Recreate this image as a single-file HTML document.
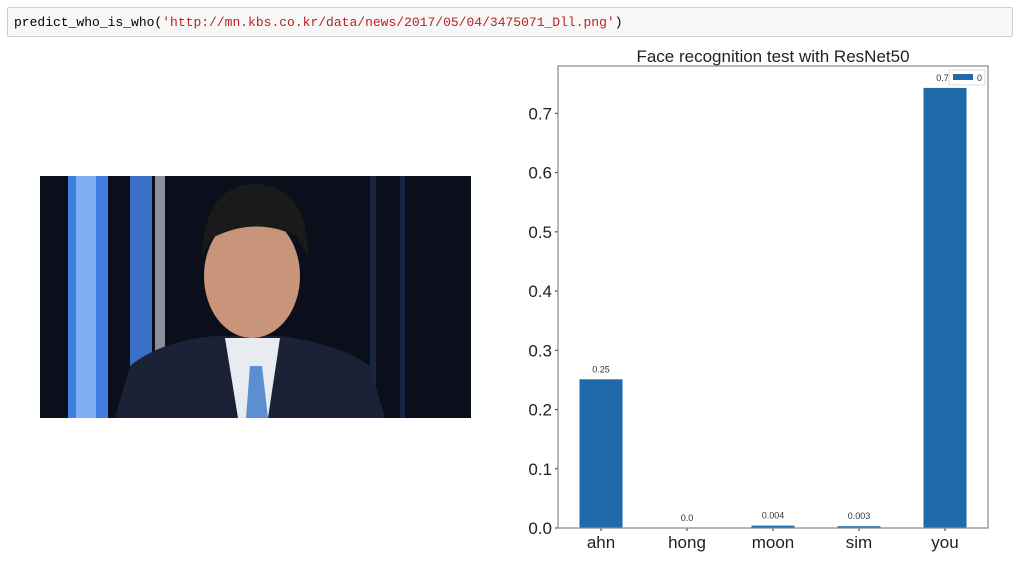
<!DOCTYPE html>
<html><head><meta charset="utf-8"><style>
body{margin:0;width:1022px;height:562px;background:#fff;overflow:hidden;position:relative;font-family:"Liberation Sans",sans-serif}
#cell{position:absolute;left:7px;top:7px;width:1006px;height:30px;background:#f7f7f7;border:1px solid #cfcfcf;border-radius:2px;box-sizing:border-box}
#code{position:absolute;left:6px;top:7px;font:13px "Liberation Mono",monospace;color:#000;white-space:pre}
.s{color:#ba2121}
</style></head><body>
<div id="cell"><div id="code">predict_who_is_who(<span class="s">'http://mn.kbs.co.kr/data/news/2017/05/04/3475071_Dll.png'</span>)</div></div>
<svg style="position:absolute;left:40px;top:176px" width="431" height="242">
<rect width="431" height="242" fill="#0b0f1c"/>
<rect x="28" width="40" height="242" fill="#3f7de0"/>
<rect x="36" width="20" height="242" fill="#7fb0f5"/>
<rect x="90" width="22" height="242" fill="#3a6fc8"/>
<rect x="115" width="10" height="242" fill="#8a8f9a"/>
<rect x="330" width="6" height="242" fill="#1a2444"/>
<rect x="360" width="5" height="242" fill="#1a2444"/>
<path d="M75 242 L90 190 Q120 165 175 160 L240 160 Q300 168 330 190 L345 242Z" fill="#1c2236"/>
<path d="M185 162 L240 162 L228 242 L198 242Z" fill="#e8ecf0"/>
<path d="M210 190 L222 190 L228 242 L206 242Z" fill="#5b8fd0"/>
<ellipse cx="212" cy="100" rx="48" ry="62" fill="#c9957a"/>
<path d="M162 80 Q165 8 215 8 Q268 10 268 80 L256 60 Q215 40 172 62Z" fill="#1a1a1a"/>
</svg>
<svg style="position:absolute;left:0;top:0" width="1022" height="562" id="chart"></svg>
<script>
const categories=["ahn","hong","moon","sim","you"];
const values=[0.251,0.0001,0.004,0.003,0.743];
const labels=["0.25","0.0","0.004","0.003","0.74"];
const yTicks=[0,0.1,0.2,0.3,0.4,0.5,0.6,0.7];
const L=558,R=988,T=66,B=528,YMAX=0.78;
const svg=document.getElementById('chart');const NS="http://www.w3.org/2000/svg";
function y(v){return B-(v/YMAX)*(B-T);}
const step=(R-L)/categories.length;
function x(i){return L+step*(i+0.5);}
function el(t,a,txt){const e=document.createElementNS(NS,t);for(const k in a)e.setAttribute(k,a[k]);if(txt!=null)e.textContent=txt;svg.appendChild(e);return e;}
const tt=el('text',{x:773,y:62,'font-size':17,'text-anchor':'middle',fill:'#222'},'Face recognition test with ResNet50');

categories.forEach((c,i)=>{
 const h=B-y(values[i]);
 const b=el('rect',{x:x(i)-step*0.25,y:y(values[i]),width:step*0.5,height:h,fill:'#1f6aa8'});
 
 const lb=el('text',{x:x(i),y:y(values[i])-7,'font-size':9,'text-anchor':'middle',fill:'#333'},labels[i]);
 
 el('line',{x1:x(i),x2:x(i),y1:B,y2:B+3,stroke:'#333'});
 const t=el('text',{x:x(i),y:B+20,'font-size':17,'text-anchor':'middle',fill:'#222'},c);
 
});
yTicks.forEach(v=>{
 el('line',{x1:L-3,x2:L,y1:y(v),y2:y(v),stroke:'#333'});
 const t=el('text',{x:L-6,y:y(v)+6,'font-size':17,'text-anchor':'end',fill:'#222'},v.toFixed(1));
 
});
const fr=el('rect',{x:L,y:T,width:R-L,height:B-T,fill:'none',stroke:'#888','stroke-width':1.2});

const lg=el('rect',{x:949,y:70,width:36,height:15,fill:'#fff',stroke:'#ddd'});

el('rect',{x:953,y:74,width:20,height:6,fill:'#1f6aa8'});
el('text',{x:977,y:81,'font-size':9,fill:'#333'},'0');
</script>
</body></html>
